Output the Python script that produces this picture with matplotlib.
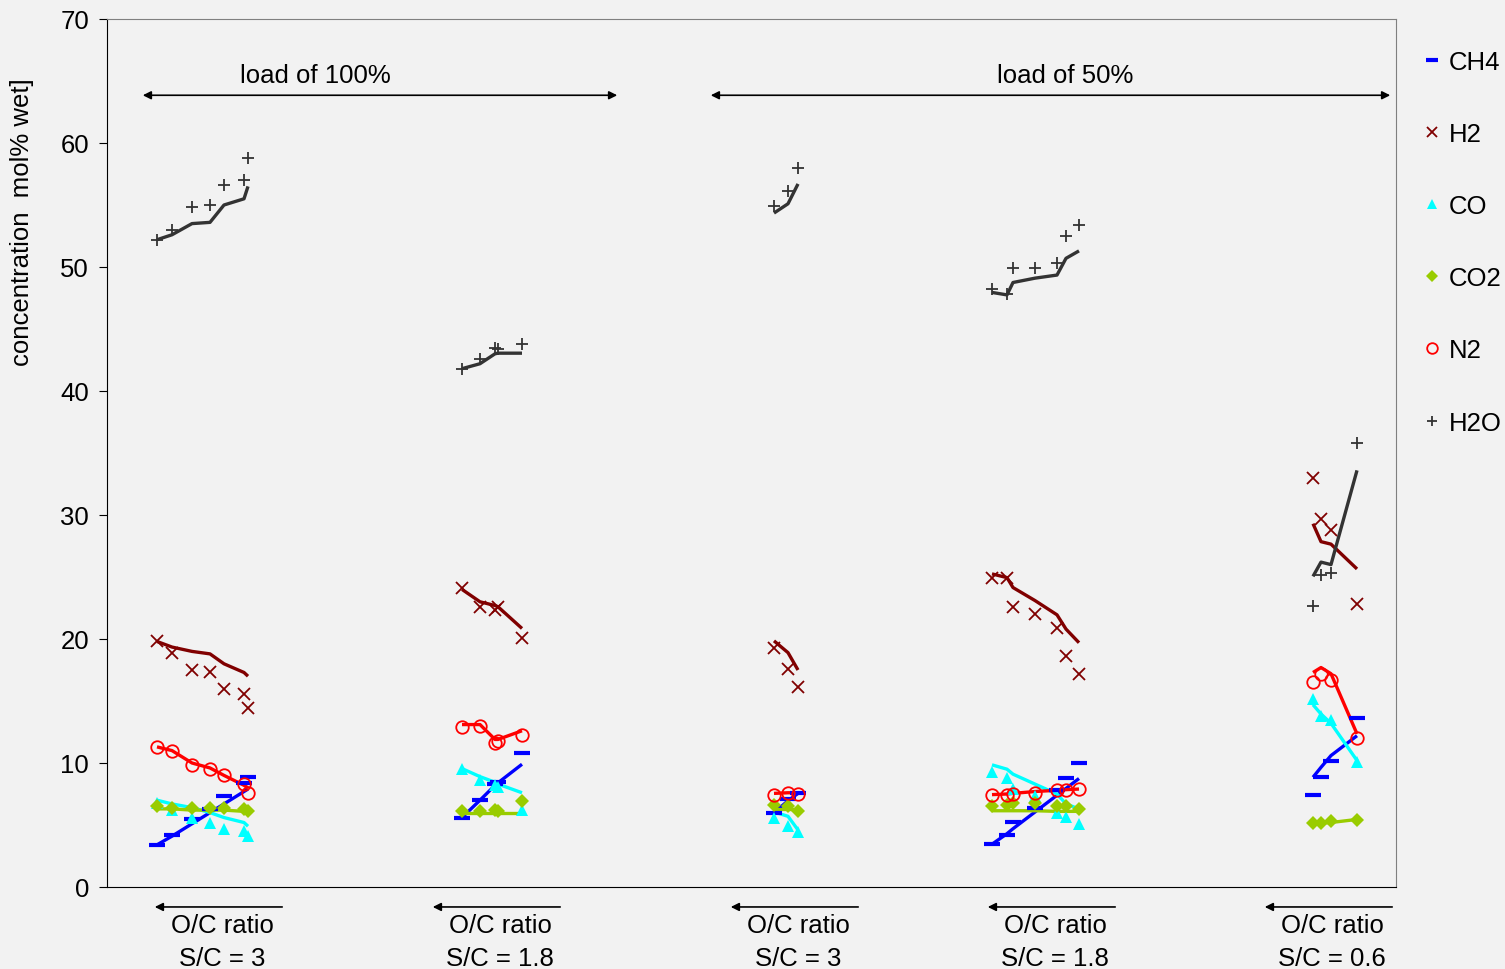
import matplotlib
matplotlib.use("Agg")
import matplotlib.pyplot as plt
from matplotlib.lines import Line2D

plt.rcParams['font.family'] = ['Liberation Sans', 'DejaVu Sans']

# x positions of the runs (arbitrary axis units), one list per group
x_pos = [
    [50, 65, 85, 103, 117, 137, 141],
    [355, 373, 388, 391, 415],
    [667, 681, 691],
    [885, 900, 906, 928, 950, 959, 972],
    [1206, 1214, 1224, 1250],
]
group_sc = ["S/C = 3", "S/C = 1.8", "S/C = 3", "S/C = 1.8", "S/C = 0.6"]
group_center = [115, 393, 691, 948, 1225]

# measured concentrations (markers) and model (lines), mol% wet
ch4_meas = [[3.4, 4.2, 5.5, 6.3, 7.3, 8.4, 8.9], [5.6, 7.0, 8.3, 8.5, 10.8],
            [6.0, 7.1, 7.6], [3.5, 4.2, 5.25, 6.4, 7.8, 8.8, 10.0], [7.4, 8.85, 10.2, 13.6]]
ch4_model = [[3.4, 4.1, 5.1, 6.0, 6.7, 7.7, 7.9], [5.6, 7.0, 8.2, 8.4, 9.9],
             [6.0, 6.95, 7.55], [3.45, 4.3, 4.7, 6.05, 7.4, 7.95, 8.75], [8.85, 9.65, 10.6, 12.2]]
h2_meas = [[19.8, 18.9, 17.5, 17.3, 16.0, 15.6, 14.4], [24.1, 22.6, 22.3, 22.6, 20.1],
           [19.3, 17.6, 16.1], [24.9, 24.9, 22.6, 22.0, 20.85, 18.65, 17.2], [32.95, 29.7, 28.8, 22.8]]
h2_model = [[19.8, 19.35, 19.0, 18.8, 18.0, 17.3, 17.0], [24.0, 23.0, 22.7, 22.6, 20.85],
            [19.85, 18.9, 17.5], [25.25, 24.95, 24.15, 23.1, 21.95, 20.8, 19.7], [29.3, 27.85, 27.65, 25.65]]
co_meas = [[6.8, 6.2, 5.6, 5.2, 4.7, 4.5, 4.1], [9.5, 8.6, 8.2, 8.1, 6.2],
           [5.6, 4.95, 4.45], [9.25, 8.8, 7.9, 7.3, 6.0, 5.65, 5.1], [15.2, 13.8, 13.5, 10.05]]
co_model = [[7.0, 6.7, 6.4, 6.0, 5.6, 5.2, 4.9], [9.55, 8.9, 8.45, 8.3, 7.6],
            [6.05, 5.7, 4.6], [9.85, 9.5, 9.1, 8.3, 7.5, 6.7, 6.3], [14.7, 13.95, 13.2, 10.2]]
co2_meas = [[6.5, 6.4, 6.4, 6.4, 6.4, 6.3, 6.1], [6.1, 6.1, 6.2, 6.1, 6.9],
            [6.6, 6.55, 6.15], [6.55, 6.65, 6.75, 6.75, 6.55, 6.5, 6.3], [5.2, 5.2, 5.3, 5.4]]
co2_model = [[6.3, 6.3, 6.2, 6.2, 6.2, 6.1, 6.1], [6.0, 6.0, 6.0, 6.0, 6.0],
             [6.3, 6.3, 6.3], [6.15, 6.15, 6.15, 6.15, 6.1, 6.1, 6.1], [5.2, 5.15, 5.2, 5.45]]
n2_meas = [[11.3, 11.0, 9.8, 9.5, 9.0, 8.3, 7.6], [12.9, 13.0, 11.65, 11.8, 12.25],
           [7.4, 7.6, 7.5], [7.4, 7.45, 7.5, 7.6, 7.85, 7.85, 7.9], [16.5, 17.2, 16.7, 12.05]]
n2_model = [[11.3, 11.0, 10.0, 9.6, 9.0, 8.2, 8.0], [13.1, 13.1, 11.9, 11.9, 12.6],
            [7.55, 7.6, 7.6], [7.45, 7.5, 7.55, 7.7, 7.8, 7.85, 7.9], [17.3, 17.7, 17.2, 12.35]]
h2o_meas = [[52.2, 53.0, 54.8, 55.0, 56.6, 57.0, 58.8], [41.8, 42.6, 43.5, 43.4, 43.8],
            [54.9, 56.15, 58.0], [48.2, 47.8, 49.95, 49.9, 50.3, 52.5, 53.4], [22.7, 25.2, 25.35, 35.8]]
h2o_model = [[52.2, 52.6, 53.5, 53.6, 55.0, 55.5, 56.5], [41.8, 42.2, 43.0, 43.05, 43.05],
             [54.35, 55.1, 56.7], [47.95, 47.75, 48.75, 49.1, 49.35, 50.7, 51.3], [25.05, 26.2, 26.0, 33.6]]

species = [
    ("CH4", ch4_meas, ch4_model, "#0000ff", dict(marker="_", ms=11, mew=3)),
    ("H2", h2_meas, h2_model, "#800000", dict(marker="x", ms=8, mew=1.3)),
    ("CO", co_meas, co_model, "#00ffff", dict(marker="^", ms=9, mew=0)),
    ("CO2", co2_meas, co2_model, "#99cc00", dict(marker="D", ms=7.5, mew=0)),
    ("N2", n2_meas, n2_model, "#ff0000", dict(marker="o", ms=9, mew=1.3, mfc="none")),
    ("H2O", h2o_meas, h2o_model, "#333333", dict(marker="+", ms=9, mew=1.3)),
]

fs = 18.5
bg = "#f2f2f2"
fig = plt.figure(figsize=(15.05, 9.70), dpi=100, facecolor=bg)
ax = fig.add_axes([107 / 1505, 1 - 888 / 970, 1289 / 1505, 868 / 970], facecolor=bg)

handles = []
for name, meas, model, col, mk in species:
    for xs, ym, yl in zip(x_pos, meas, model):
        ax.plot(xs, yl, color=col, lw=2.4, solid_capstyle="butt", zorder=2)
    for xs, ym in zip(x_pos, meas):
        ax.plot(xs, ym, ls="none", color=col, zorder=3, **mk)
    handles.append(Line2D([], [], ls="none", color=col, label=name, **mk))

ax.set_xlim(0, 1289)
ax.set_ylim(0, 70)
ax.set_yticks(range(0, 71, 10))
ax.set_xticks([])
ax.tick_params(axis="y", labelsize=fs, length=6, direction="out", pad=7)
for s in ["top", "right"]:
    ax.spines[s].set_color("#808080")
for s in ["left", "bottom"]:
    ax.spines[s].set_color("black")
ax.set_ylabel("concentration  mol% wet]", fontsize=fs)
ax.yaxis.set_label_coords(-0.057, 0.767)

# load annotations
ax.annotate("", xy=(33, 63.85), xytext=(513, 63.85),
            arrowprops=dict(arrowstyle="<|-|>", color="black", lw=1.2, mutation_scale=12))
ax.text(208, 65.5, "load of 100%", ha="center", va="center", fontsize=fs)
ax.annotate("", xy=(601, 63.85), xytext=(1286, 63.85),
            arrowprops=dict(arrowstyle="<|-|>", color="black", lw=1.2, mutation_scale=12))
ax.text(958, 65.5, "load of 50%", ha="center", va="center", fontsize=fs)

# group labels below the axis
tr = ax.get_xaxis_transform()
for xc, sc in zip(group_center, group_sc):
    ax.annotate("", xy=(xc - 70, -0.023), xytext=(xc + 63, -0.023), xycoords=tr, textcoords=tr,
                arrowprops=dict(arrowstyle="-|>", color="black", lw=1.2, mutation_scale=12),
                annotation_clip=False)
    ax.text(xc, -0.044, "O/C ratio", transform=tr, ha="center", va="center", fontsize=fs)
    ax.text(xc, -0.082, sc, transform=tr, ha="center", va="center", fontsize=fs)

fig.legend(handles=handles, loc="upper left", bbox_to_anchor=(1414 / 1505, 1 - 41 / 970),
           frameon=False, fontsize=fs, handlelength=0.6, handletextpad=0.35,
           labelspacing=1.87, markerscale=0.85, borderaxespad=0)

fig.savefig("out.png", dpi=100, facecolor=bg)
